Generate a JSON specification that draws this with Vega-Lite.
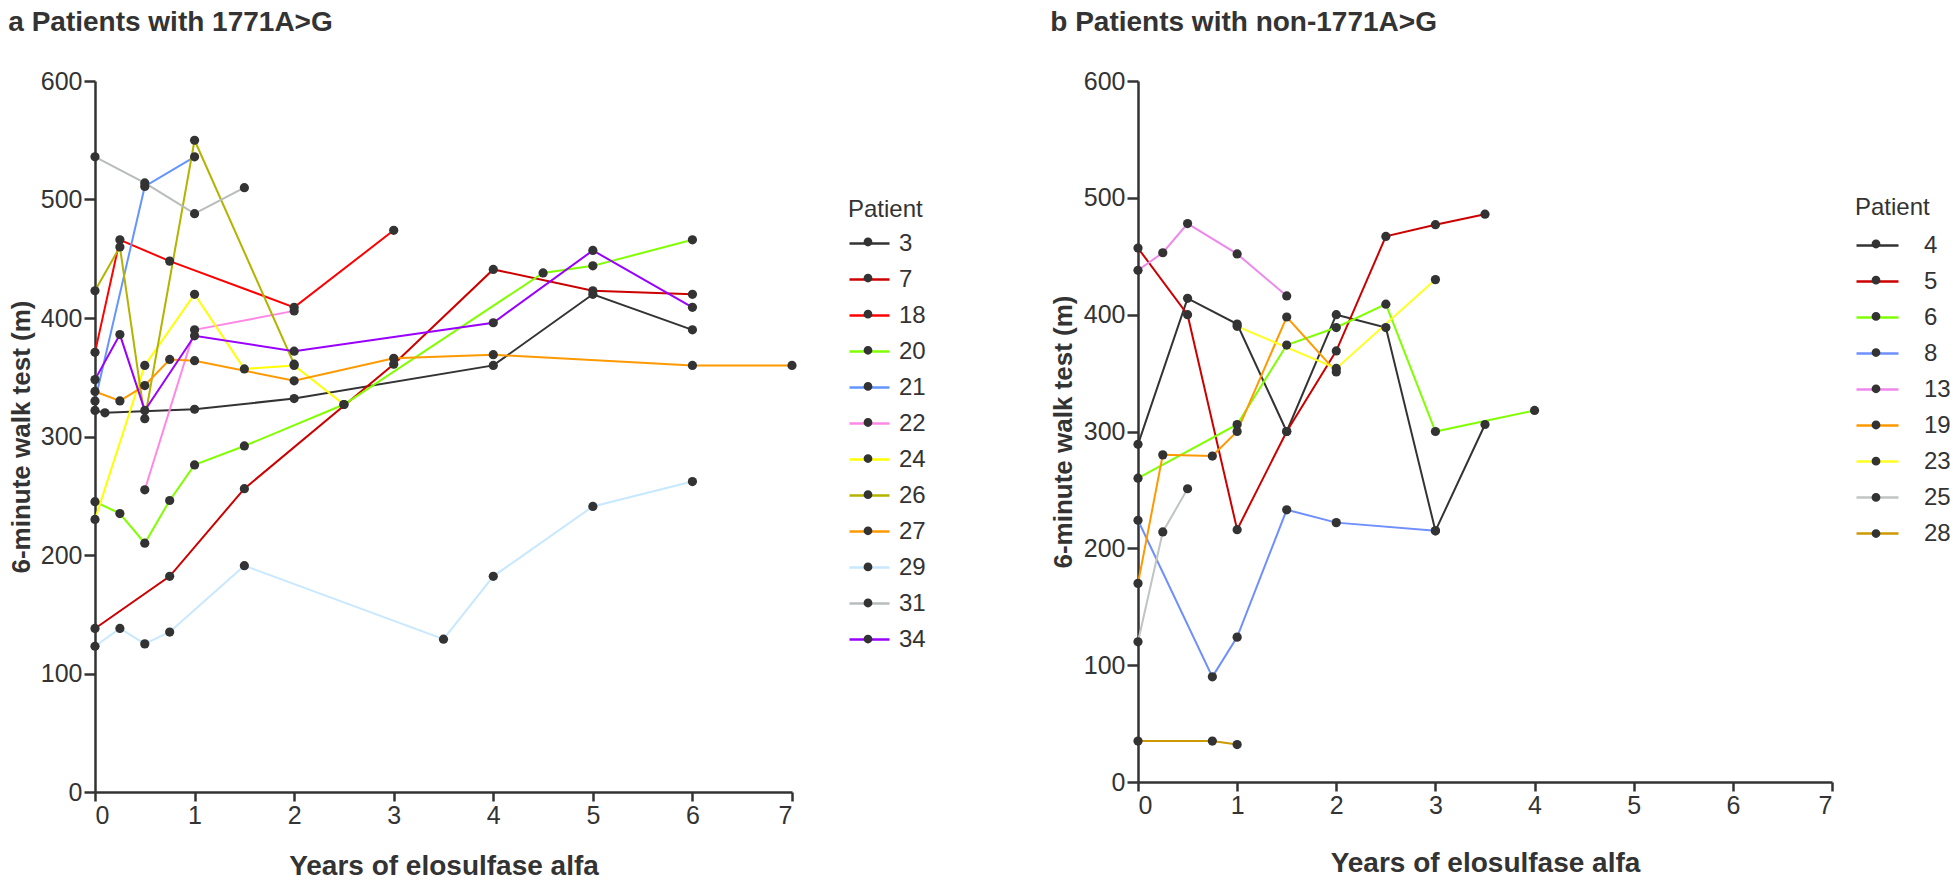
{
  "$schema": "https://vega.github.io/schema/vega-lite/v6.json",
  "background": "white",
  "padding": {"left": 8, "top": 9, "right": 0, "bottom": 0},
  "config": {
    "font": "Liberation Sans",
    "view": {"stroke": null},
    "axis": {"domainColor": "#333333", "domainWidth": 2.5, "tickColor": "#333333", "tickWidth": 2.5, "tickSize": 11, "labelColor": "#333333", "labelFontSize": 25, "labelPadding": 2, "titleColor": "#333333", "titleFontSize": 26, "titleFontWeight": "bold", "grid": false},
    "title": {"fontSize": 28, "fontWeight": "bold", "color": "#333333", "anchor": "start", "frame": "bounds"}
  },
  "datasets": {
    "a": [
      {"patient": "3", "years": 0, "walk": 322}, {"patient": "3", "years": 0.1, "walk": 320}, {"patient": "3", "years": 1, "walk": 323}, {"patient": "3", "years": 2, "walk": 332}, {"patient": "3", "years": 4, "walk": 360}, {"patient": "3", "years": 5, "walk": 420}, {"patient": "3", "years": 6, "walk": 390},
      {"patient": "7", "years": 0, "walk": 138}, {"patient": "7", "years": 0.75, "walk": 182}, {"patient": "7", "years": 1.5, "walk": 256}, {"patient": "7", "years": 3, "walk": 361}, {"patient": "7", "years": 4, "walk": 441}, {"patient": "7", "years": 5, "walk": 423}, {"patient": "7", "years": 6, "walk": 420},
      {"patient": "18", "years": 0, "walk": 371}, {"patient": "18", "years": 0.25, "walk": 466}, {"patient": "18", "years": 0.75, "walk": 448}, {"patient": "18", "years": 2, "walk": 409}, {"patient": "18", "years": 3, "walk": 474},
      {"patient": "20", "years": 0, "walk": 245}, {"patient": "20", "years": 0.25, "walk": 235}, {"patient": "20", "years": 0.5, "walk": 210}, {"patient": "20", "years": 0.75, "walk": 246}, {"patient": "20", "years": 1, "walk": 276}, {"patient": "20", "years": 1.5, "walk": 292}, {"patient": "20", "years": 2.5, "walk": 327}, {"patient": "20", "years": 4.5, "walk": 438}, {"patient": "20", "years": 5, "walk": 444}, {"patient": "20", "years": 6, "walk": 466},
      {"patient": "21", "years": 0, "walk": 330}, {"patient": "21", "years": 0.5, "walk": 511}, {"patient": "21", "years": 1, "walk": 536},
      {"patient": "22", "years": 0.5, "walk": 255}, {"patient": "22", "years": 1, "walk": 390}, {"patient": "22", "years": 2, "walk": 406},
      {"patient": "24", "years": 0, "walk": 230}, {"patient": "24", "years": 0.5, "walk": 360}, {"patient": "24", "years": 1, "walk": 420}, {"patient": "24", "years": 1.5, "walk": 357}, {"patient": "24", "years": 2, "walk": 360}, {"patient": "24", "years": 2.5, "walk": 327},
      {"patient": "26", "years": 0, "walk": 423}, {"patient": "26", "years": 0.25, "walk": 460}, {"patient": "26", "years": 0.5, "walk": 315}, {"patient": "26", "years": 1, "walk": 550}, {"patient": "26", "years": 2, "walk": 361},
      {"patient": "27", "years": 0, "walk": 338}, {"patient": "27", "years": 0.25, "walk": 330}, {"patient": "27", "years": 0.5, "walk": 343}, {"patient": "27", "years": 0.75, "walk": 365}, {"patient": "27", "years": 1, "walk": 364}, {"patient": "27", "years": 2, "walk": 347}, {"patient": "27", "years": 3, "walk": 366}, {"patient": "27", "years": 4, "walk": 369}, {"patient": "27", "years": 6, "walk": 360}, {"patient": "27", "years": 7, "walk": 360},
      {"patient": "29", "years": 0, "walk": 123}, {"patient": "29", "years": 0.25, "walk": 138}, {"patient": "29", "years": 0.5, "walk": 125}, {"patient": "29", "years": 0.75, "walk": 135}, {"patient": "29", "years": 1.5, "walk": 191}, {"patient": "29", "years": 3.5, "walk": 129}, {"patient": "29", "years": 4, "walk": 182}, {"patient": "29", "years": 5, "walk": 241}, {"patient": "29", "years": 6, "walk": 262},
      {"patient": "31", "years": 0, "walk": 536}, {"patient": "31", "years": 0.5, "walk": 514}, {"patient": "31", "years": 1, "walk": 488}, {"patient": "31", "years": 1.5, "walk": 510},
      {"patient": "34", "years": 0, "walk": 348}, {"patient": "34", "years": 0.25, "walk": 386}, {"patient": "34", "years": 0.5, "walk": 322}, {"patient": "34", "years": 1, "walk": 385}, {"patient": "34", "years": 2, "walk": 372}, {"patient": "34", "years": 4, "walk": 396}, {"patient": "34", "years": 5, "walk": 457}, {"patient": "34", "years": 6, "walk": 409}
    ],
    "b": [
      {"patient": "4", "years": 0, "walk": 289}, {"patient": "4", "years": 0.5, "walk": 414}, {"patient": "4", "years": 1, "walk": 392}, {"patient": "4", "years": 1.5, "walk": 300}, {"patient": "4", "years": 2, "walk": 400}, {"patient": "4", "years": 2.5, "walk": 389}, {"patient": "4", "years": 3, "walk": 215}, {"patient": "4", "years": 3.5, "walk": 306},
      {"patient": "5", "years": 0, "walk": 457}, {"patient": "5", "years": 0.5, "walk": 400}, {"patient": "5", "years": 1, "walk": 216}, {"patient": "5", "years": 1.5, "walk": 300}, {"patient": "5", "years": 2, "walk": 369}, {"patient": "5", "years": 2.5, "walk": 467}, {"patient": "5", "years": 3, "walk": 477}, {"patient": "5", "years": 3.5, "walk": 486},
      {"patient": "6", "years": 0, "walk": 260}, {"patient": "6", "years": 1, "walk": 306}, {"patient": "6", "years": 1.5, "walk": 374}, {"patient": "6", "years": 2, "walk": 389}, {"patient": "6", "years": 2.5, "walk": 409}, {"patient": "6", "years": 3, "walk": 300}, {"patient": "6", "years": 4, "walk": 318},
      {"patient": "8", "years": 0, "walk": 224}, {"patient": "8", "years": 0.75, "walk": 90}, {"patient": "8", "years": 1, "walk": 124}, {"patient": "8", "years": 1.5, "walk": 233}, {"patient": "8", "years": 2, "walk": 222}, {"patient": "8", "years": 3, "walk": 215},
      {"patient": "13", "years": 0, "walk": 438}, {"patient": "13", "years": 0.25, "walk": 453}, {"patient": "13", "years": 0.5, "walk": 478}, {"patient": "13", "years": 1, "walk": 452}, {"patient": "13", "years": 1.5, "walk": 416},
      {"patient": "19", "years": 0, "walk": 170}, {"patient": "19", "years": 0.25, "walk": 280}, {"patient": "19", "years": 0.75, "walk": 279}, {"patient": "19", "years": 1, "walk": 300}, {"patient": "19", "years": 1.5, "walk": 398}, {"patient": "19", "years": 2, "walk": 351},
      {"patient": "23", "years": 1, "walk": 390}, {"patient": "23", "years": 2, "walk": 354}, {"patient": "23", "years": 3, "walk": 430},
      {"patient": "25", "years": 0, "walk": 120}, {"patient": "25", "years": 0.25, "walk": 214}, {"patient": "25", "years": 0.5, "walk": 251},
      {"patient": "28", "years": 0, "walk": 35}, {"patient": "28", "years": 0.75, "walk": 35}, {"patient": "28", "years": 1, "walk": 32}
    ]
  },
  "concat": [
    {
      "width": 697,
      "height": 711,
      "title": {"text": "a  Patients with 1771A>G", "offset": 32},
      "data": {"name": "a"},
      "encoding": {
        "x": {"field": "years", "type": "quantitative", "scale": {"domain": [0, 7], "nice": false}, "axis": {"title": "Years of elosulfase alfa", "titleFontSize": 28, "values": [0, 1, 2, 3, 4, 5, 6, 7], "tickSize": 9, "titlePadding": 24}},
        "y": {"field": "walk", "type": "quantitative", "scale": {"domain": [0, 600], "nice": false}, "axis": {"title": "6-minute walk test (m)", "values": [0, 100, 200, 300, 400, 500, 600], "titlePadding": 6}}
      },
      "layer": [
        {
          "mark": {"type": "line", "strokeWidth": 2},
          "encoding": {
            "stroke": {"field": "patient", "type": "nominal",
              "scale": {"domain": ["3", "7", "18", "20", "21", "22", "24", "26", "27", "29", "31", "34"], "range": ["#333333", "#cc0000", "#ff0000", "#80ff00", "#6495ff", "#ff88e6", "#ffff00", "#b3b300", "#ff9900", "#c8e8ff", "#b8bcbc", "#9900ff"]},
              "legend": {"title": "Patient", "orient": "none", "legendX": 753, "legendY": 117, "symbolType": "stroke", "symbolSize": 1600, "symbolStrokeWidth": 2.5, "labelFontSize": 24, "labelColor": "#333333", "labelOffset": 8, "titleFontSize": 24, "titleFontWeight": "normal", "titleColor": "#333333", "titlePadding": 0, "rowPadding": 2}}
          }
        },
        {
          "mark": {"type": "point", "filled": true, "size": 85, "opacity": 1, "strokeWidth": 0},
          "encoding": {
            "fill": {"field": "patient", "type": "nominal",
              "scale": {"domain": ["34", "31", "29", "27", "26", "24", "22", "21", "20", "18", "7", "3"], "range": ["#333333", "#333333", "#333333", "#333333", "#333333", "#333333", "#333333", "#333333", "#333333", "#333333", "#333333", "#333333"]},
              "legend": {"title": "Patient", "orient": "none", "legendX": 753, "legendY": 117, "symbolType": "M-1,0L1,0M0.22,0A0.22,0.22 0 1,1 -0.22,0A0.22,0.22 0 1,1 0.22,0Z", "symbolSize": 1600, "symbolStrokeWidth": 0, "symbolStrokeColor": "transparent", "symbolOpacity": 1, "labelFontSize": 24, "labelColor": "transparent", "labelExpr": "''", "labelOffset": 8, "titleFontSize": 24, "titleFontWeight": "normal", "titleColor": "transparent", "titlePadding": 0, "rowPadding": 4.1}}
          }
        }
      ]
    },
    {
      "width": 694,
      "height": 701,
      "title": {"text": "b  Patients with non-1771A>G", "offset": 32},
      "data": {"name": "b"},
      "encoding": {
        "x": {"field": "years", "type": "quantitative", "scale": {"domain": [0, 7], "nice": false}, "axis": {"title": "Years of elosulfase alfa", "titleFontSize": 28, "values": [0, 1, 2, 3, 4, 5, 6, 7], "tickSize": 9, "titlePadding": 31}},
        "y": {"field": "walk", "type": "quantitative", "scale": {"domain": [0, 600], "nice": false}, "axis": {"title": "6-minute walk test (m)", "values": [0, 100, 200, 300, 400, 500, 600], "titlePadding": 7}}
      },
      "layer": [
        {
          "mark": {"type": "line", "strokeWidth": 2},
          "encoding": {
            "stroke": {"field": "patient", "type": "nominal",
              "scale": {"domain": ["4", "5", "6", "8", "13", "19", "23", "25", "28"], "range": ["#333333", "#cc0000", "#80ff00", "#6f8fff", "#ee88ee", "#ff9900", "#ffff22", "#c0c4c4", "#cc9900"]},
              "legend": {"title": "Patient", "orient": "none", "legendX": 717, "legendY": 115, "symbolType": "stroke", "symbolSize": 1764, "symbolStrokeWidth": 2.5, "labelFontSize": 24, "labelColor": "#333333", "labelOffset": 24, "titleFontSize": 24, "titleFontWeight": "normal", "titleColor": "#333333", "titlePadding": 3, "rowPadding": 1}}
          }
        },
        {
          "mark": {"type": "point", "filled": true, "size": 85, "opacity": 1, "strokeWidth": 0},
          "encoding": {
            "fill": {"field": "patient", "type": "nominal",
              "scale": {"domain": ["28", "25", "23", "19", "13", "8", "6", "5", "4"], "range": ["#333333", "#333333", "#333333", "#333333", "#333333", "#333333", "#333333", "#333333", "#333333"]},
              "legend": {"title": "Patient", "orient": "none", "legendX": 717, "legendY": 115, "symbolType": "M-1,0L1,0M0.21,0A0.21,0.21 0 1,1 -0.21,0A0.21,0.21 0 1,1 0.21,0Z", "symbolSize": 1764, "symbolStrokeWidth": 0, "symbolStrokeColor": "transparent", "symbolOpacity": 1, "labelFontSize": 24, "labelColor": "transparent", "labelExpr": "''", "labelOffset": 24, "titleFontSize": 24, "titleFontWeight": "normal", "titleColor": "transparent", "titlePadding": 3, "rowPadding": 3.2}}
          }
        }
      ]
    }
  ],
  "columns": 2,
  "align": "none",
  "spacing": 124,
  "resolve": {"scale": {"stroke": "independent", "fill": "independent"}, "legend": {"stroke": "independent", "fill": "independent"}}
}
